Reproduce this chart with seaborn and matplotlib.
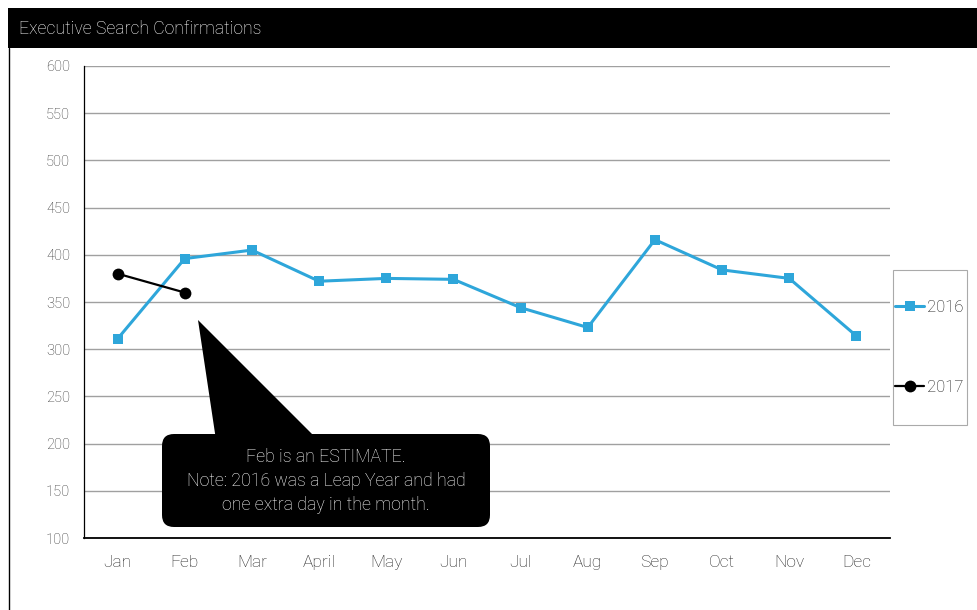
import matplotlib
matplotlib.use("Agg")
import matplotlib.pyplot as plt
import seaborn as sns
import pandas as pd
import numpy as np
from matplotlib.patches import FancyBboxPatch, Polygon, Rectangle
from matplotlib.lines import Line2D
from matplotlib.transforms import IdentityTransform

months = ["Jan", "Feb", "Mar", "April", "May", "Jun", "Jul", "Aug", "Sep", "Oct", "Nov", "Dec"]
values_2016 = [311, 396, 405, 372, 375, 374, 344, 323, 416, 384, 375, 314]
values_2017 = [380, 360]
series_names = ["2016", "2017"]
y_ticks = [100, 150, 200, 250, 300, 350, 400, 450, 500, 550, 600]
title = "Executive Search Confirmations"
note = "Feb is an ESTIMATE.\nNote: 2016 was a Leap Year and had\none extra day in the month."

sns.set_theme(style="white")
plt.rcParams["font.family"] = ["Roboto", "DejaVu Sans"]
plt.rcParams["font.weight"] = "light"

df = pd.DataFrame({
    "idx": list(range(len(values_2016))) + list(range(len(values_2017))),
    "value": values_2016 + values_2017,
    "year": [series_names[0]] * len(values_2016) + [series_names[1]] * len(values_2017),
})

W, H = 978, 610
fig = plt.figure(figsize=(W / 100, H / 100), dpi=100)
ax = fig.add_axes([84 / W, (H - 538) / H, (890 - 84) / W, (538 - 66) / H])

blue = "#2EA6DA"
sns.lineplot(data=df, x="idx", y="value", hue="year", style="year",
             palette={"2016": blue, "2017": "black"},
             markers={"2016": "s", "2017": "o"}, dashes=False,
             size="year", sizes={"2016": 2.2, "2017": 1.6},
             markersize=7.5, markeredgewidth=0, legend=False, ax=ax, sort=False)
for line in ax.get_lines():
    if line.get_marker() == "o":
        line.set_markersize(8.5)

ax.set_xlim(-0.5, 11.5)
ax.set_ylim(100, 600)
ax.set_yticks(y_ticks)
ax.set_yticklabels([str(v) for v in y_ticks])
ax.set_xticks(np.arange(-0.5, 12.0, 1.0))
ax.set_xticklabels([])
ax.set_xticks(np.arange(12), minor=True)
ax.set_xticklabels(months, minor=True)
ax.tick_params(axis="x", which="major", length=6, width=0.8, color="#888888", direction="out", pad=0)
ax.tick_params(axis="x", which="minor", length=0, pad=12, labelsize=12.5, labelcolor="#222222")
ax.tick_params(axis="y", length=4, width=1.0, color="#a0a0a0", direction="out", labelsize=10.5,
               labelcolor="#333333", pad=6)
ax.set_xlabel("")
ax.set_ylabel("")
ax.grid(axis="y", color="#a0a0a0", linewidth=1.0)
ax.set_axisbelow(True)
for s in ["top", "right"]:
    ax.spines[s].set_visible(False)
ax.spines["left"].set_color("black")
ax.spines["left"].set_linewidth(0.9)
ax.spines["bottom"].set_color("black")
ax.spines["bottom"].set_linewidth(1.3)

# legend
handles = [Line2D([], [], color=blue, marker="s", markersize=7, lw=2.2, markeredgewidth=0),
           Line2D([], [], color="black", marker="o", markersize=8.5, lw=1.6, markeredgewidth=0)]
leg = fig.legend(handles, series_names, loc="center left",
                 bbox_to_anchor=(895 / W, (H - 347) / H), frameon=False,
                 labelspacing=3.9, handlelength=1.75, handletextpad=0.15,
                 prop={"size": 12, "weight": "light"}, borderpad=0, borderaxespad=0)
for t in leg.get_texts():
    t.set_color("#111111")
fig.add_artist(Rectangle((893, H - 425), 74, 155, transform=IdentityTransform(),
                         facecolor="none", edgecolor="#aaaaaa", linewidth=0.8))

# title bar
fig.add_artist(Rectangle((8, H - 48), W - 8, 40, transform=IdentityTransform(),
                         facecolor="black", edgecolor="none"))
fig.text(19 / W, (H - 29) / H, title, color="white", fontsize=12.7,
         va="center", ha="left")
fig.add_artist(Line2D([8.5, 8.5], [0, H - 48], transform=IdentityTransform(),
                      color="black", linewidth=1.0))

# callout
fig.add_artist(Polygon([(198, H - 320), (216, H - 440), (318, H - 440)], closed=True,
                       transform=IdentityTransform(), facecolor="black", edgecolor="none"))
fig.add_artist(FancyBboxPatch((162, H - 527), 328, 93, boxstyle="round,pad=0,rounding_size=12",
                              transform=IdentityTransform(), facecolor="black", edgecolor="none"))
fig.text(326 / W, (H - 481) / H, note, color="white", fontsize=12.8,
         ha="center", va="center", linespacing=1.45)

fig.savefig("out.png", dpi=100)
